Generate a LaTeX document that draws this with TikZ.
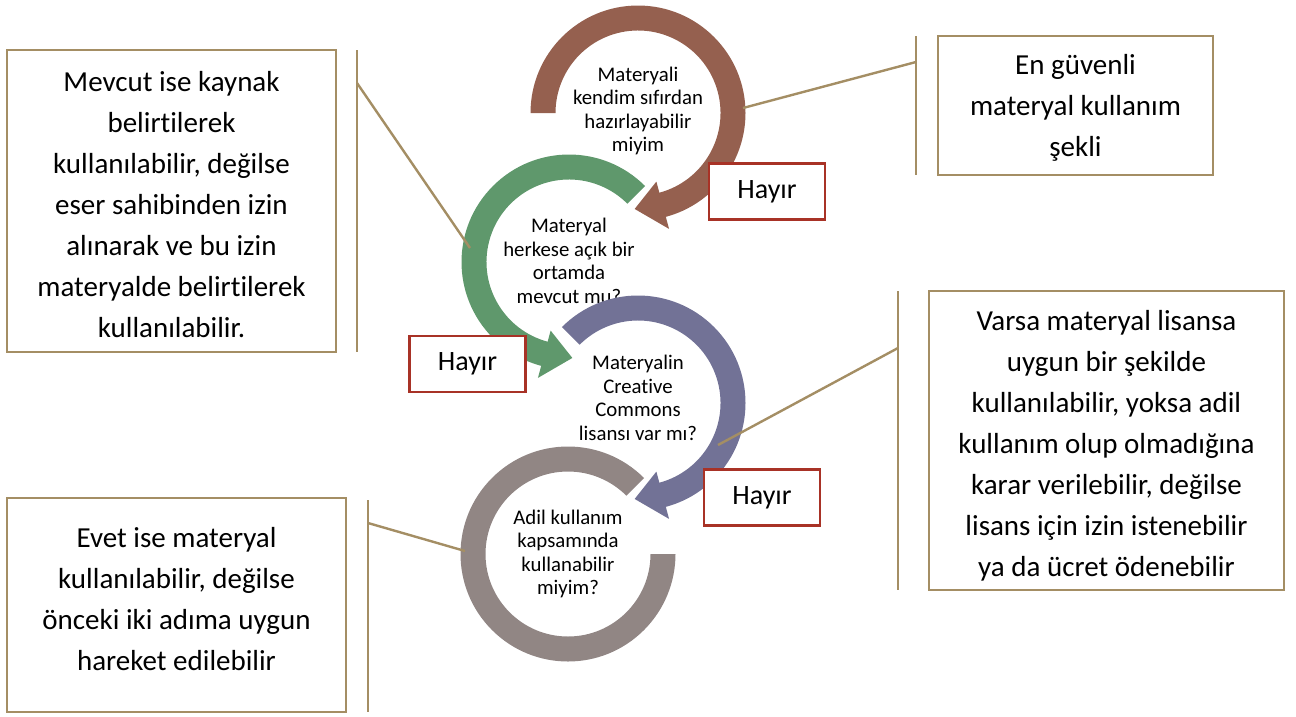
\documentclass[tikz,border=0pt]{standalone}
\usepackage{fontspec}
\setmainfont{Carlito}[Ligatures=NoCommon]
\usetikzlibrary{calc}
\definecolor{cbrown}{RGB}{149,96,79}
\definecolor{cgreen}{RGB}{95,152,108}
\definecolor{cpurple}{RGB}{114,114,150}
\definecolor{cgrey}{RGB}{145,134,132}
\definecolor{ctan}{RGB}{164,142,100}
\definecolor{cred}{RGB}{168,50,38}
\tikzset{
  callbox/.style={draw=ctan, line width=2.8pt, fill=white, inner sep=0pt},
  calltext/.style={align=center, inner sep=0pt, font=\fontsize{29}{41}\selectfont},
  hayirbox/.style={draw=cred, line width=2.5pt, fill=white, minimum width=116pt,
    minimum height=56pt, inner sep=0pt, font=\fontsize{28}{30}\selectfont},
  accentbar/.style={ctan, line width=2.8pt},
  leader/.style={ctan, line width=2.4pt},
  ringtext/.style={align=center, inner sep=0pt, font=\fontsize{20.8}{23.5}\selectfont}
}
% clockwise (screen) circular arrow: #1 centre, #2 colour, #3 start angle, #4 end angle
\newcommand{\ringcw}[4]{%
  \fill[#2] ($(#1)+(#3:107.5)$) arc[start angle=#3, end angle=#4, radius=107.5]
    -- ($(#1)+(#4:120)$) -- ($(#1)+({#4+17}:96)$) -- ($(#1)+(#4:71)$)
    -- ($(#1)+(#4:82.5)$) arc[start angle=#4, end angle=#3, radius=82.5] -- cycle;}
% counter-clockwise (screen) circular arrow
\newcommand{\ringccw}[4]{%
  \fill[#2] ($(#1)+(#3:107.5)$) arc[start angle=#3, end angle=#4, radius=107.5]
    -- ($(#1)+(#4:120)$) -- ($(#1)+({#4-17}:96)$) -- ($(#1)+(#4:71)$)
    -- ($(#1)+(#4:82.5)$) arc[start angle=#4, end angle=#3, radius=82.5] -- cycle;}
\begin{document}
\begin{tikzpicture}[x=1pt,y=-1pt]
\useasboundingbox (0,0) rectangle (1296,716);
\coordinate (cb) at (638,113);
\coordinate (cg) at (569,262);
\coordinate (cp) at (638,403);
\coordinate (cy) at (568,554);

% ring 1
\ringcw{cb}{cbrown}{180}{435}
\node[ringtext] (t1) at ($(cb)+(0,-2)$) {Materyali\\kendim sıfırdan\\hazırlayabilir\\miyim};
% ring 2
\ringccw{cg}{cgreen}{315}{105}
\node[ringtext] (t2) at ($(cg)+(0,-1)$) {Materyal\\herkese açık bir\\ortamda\\mevcut mu?};
% ring 3
\ringcw{cp}{cpurple}{225}{435}
\node[ringtext] (t3) at ($(cp)+(0,-5)$) {Materyalin\\Creative\\Commons\\lisansı var mı?};
% ring 4
\fill[cgrey] ($(cy)+(315:107.5)$) arc[start angle=315, end angle=0, radius=107.5]
  -- ($(cy)+(0:82.5)$) arc[start angle=0, end angle=315, radius=82.5] -- cycle;
\node[ringtext] (t4) at ($(cy)+(0,0)$) {Adil kullanım\\kapsamında\\kullanabilir\\miyim?};

% Hayir boxes
\node[hayirbox] (h1) at (767,191.5) {Hayır};
\node[hayirbox] (h2) at (467.5,364) {Hayır};
\node[hayirbox] (h3) at (762,497.5) {Hayır};

% callout boxes
\node[callbox, minimum width=329pt, minimum height=302pt] (b1) at (171.5,201) {};
\node[calltext] (b1t) at ($(b1.center)+(0,4)$)
  {Mevcut ise kaynak\\belirtilerek\\kullanılabilir, değilse\\eser sahibinden izin\\alınarak ve bu izin\\materyalde belirtilerek\\kullanılabilir.};
\node[callbox, minimum width=275pt, minimum height=139pt] (b2) at (1075.5,105.5) {};
\node[calltext] (b2t) at ($(b2.center)+(0,2)$)
  {En güvenli\\materyal kullanım\\şekli};
\node[callbox, minimum width=355pt, minimum height=299pt] (b3) at (1106.5,440.5) {};
\node[calltext] (b3t) at ($(b3.center)+(0,5)$)
  {Varsa materyal lisansa\\uygun bir şekilde\\kullanılabilir, yoksa adil\\kullanım olup olmadığına\\karar verilebilir, değilse\\lisans için izin istenebilir\\ya da ücret ödenebilir};
\node[callbox, minimum width=339pt, minimum height=214pt] (b4) at (176.5,605) {};
\node[calltext] (b4t) at ($(b4.center)+(0,-6)$)
  {Evet ise materyal\\kullanılabilir, değilse\\önceki iki adıma uygun\\hareket edilebilir};

% accent bars
\coordinate (a1t) at (357,50);  \coordinate (a1b) at (357,352);
\coordinate (a2t) at (916,36);  \coordinate (a2b) at (916,175);
\coordinate (a3t) at (898,291); \coordinate (a3b) at (898,590);
\coordinate (a4t) at (368,500); \coordinate (a4b) at (368,712);
\draw[accentbar] (a1t) -- (a1b);
\draw[accentbar] (a2t) -- (a2b);
\draw[accentbar] (a3t) -- (a3b);
\draw[accentbar] (a4t) -- (a4b);

% leader lines
\coordinate (l1) at (357,83);  \coordinate (e1) at (470,248);
\coordinate (l2) at (916,62);  \coordinate (e2) at (743,108);
\coordinate (l3) at (898,348); \coordinate (e3) at (718,445);
\coordinate (l4) at (368,523); \coordinate (e4) at (465,551);
\draw[leader] (l1) -- (e1);
\draw[leader] (l2) -- (e2);
\draw[leader] (l3) -- (e3);
\draw[leader] (l4) -- (e4);
\end{tikzpicture}
\end{document}
